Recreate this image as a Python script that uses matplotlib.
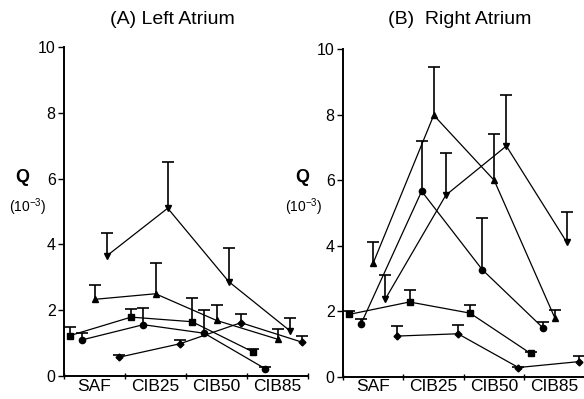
import numpy as np
import matplotlib
matplotlib.use('Agg')
import matplotlib.pyplot as plt

plt.rcParams['font.family'] = ['Liberation Sans', 'DejaVu Sans']
plt.rcParams['mathtext.default'] = 'regular'

categories = ['SAF', 'CIB25', 'CIB50', 'CIB85']

# left atrium: mean values and top of error bar, one list per marker series
la_square = [1.23, 1.79, 1.65, 0.73]
la_square_top = [1.50, 2.05, 2.38, 0.83]
la_circle = [1.10, 1.56, 1.30, 0.22]
la_circle_top = [1.32, 2.06, 2.02, 0.27]
la_up = [2.33, 2.50, 1.69, 1.12]
la_up_top = [2.78, 3.42, 2.17, 1.42]
la_down = [3.65, 5.10, 2.87, 1.38]
la_down_top = [4.34, 6.50, 3.89, 1.77]
la_diamond = [0.57, 0.98, 1.62, 1.03]
la_diamond_top = [0.65, 1.08, 1.87, 1.22]

# right atrium
ra_square = [1.90, 2.28, 1.94, 0.71]
ra_square_top = [2.02, 2.66, 2.18, 0.76]
ra_circle = [1.62, 5.66, 3.27, 1.50]
ra_circle_top = [1.75, 7.19, 4.84, 1.68]
ra_up = [3.47, 7.98, 5.99, 1.80]
ra_up_top = [4.12, 9.45, 7.42, 2.05]
ra_down = [2.37, 5.54, 7.04, 4.10]
ra_down_top = [3.11, 6.83, 8.59, 5.03]
ra_diamond = [1.24, 1.31, 0.28, 0.46]
ra_diamond_top = [1.54, 1.58, 0.30, 0.64]

markers = ['s', 'o', '^', 'v', 'D']
sizes = [5, 4.5, 5, 5, 3.5]
offsets = [0.1, 0.3, 0.5, 0.7, 0.9]

left_series = [(la_square, la_square_top), (la_circle, la_circle_top),
               (la_up, la_up_top), (la_down, la_down_top),
               (la_diamond, la_diamond_top)]
right_series = [(ra_square, ra_square_top), (ra_circle, ra_circle_top),
                (ra_up, ra_up_top), (ra_down, ra_down_top),
                (ra_diamond, ra_diamond_top)]

fig = plt.figure(figsize=(5.84, 3.99), dpi=100)
ax1 = fig.add_axes([0.1096, 0.0576, 0.4178, 0.8246])
ax2 = fig.add_axes([0.5873, 0.0559, 0.4144, 0.8213])


def draw(ax, series, title, title_x):
    base = np.arange(len(categories))
    for (vals, tops), m, ms, off in zip(series, markers, sizes, offsets):
        x = base + off
        vals = np.array(vals)
        tops = np.array(tops)
        ax.plot(x, vals, color='black', lw=0.9, marker=m, ms=ms,
                mfc='black', mec='black', zorder=3)
        ax.vlines(x, vals, tops, color='black', lw=1.2, zorder=2)
        ax.plot(x, tops, ls='none', marker='_', ms=8, mew=1.2,
                color='black', zorder=2)
    ax.set_xlim(0, 4)
    ax.set_ylim(0, 10)
    ax.spines['top'].set_visible(False)
    ax.spines['right'].set_visible(False)
    ax.spines['left'].set_linewidth(1.4)
    ax.spines['bottom'].set_linewidth(1.4)
    ax.set_yticks([0, 2, 4, 6, 8, 10])
    ax.tick_params(axis='y', direction='out', length=4, width=1,
                   labelsize=11.5, pad=2)
    ax.set_xticks(base + 0.5)
    ax.set_xticklabels(categories, fontsize=12.5)
    ax.set_xticks(np.arange(5), minor=True)
    ax.tick_params(axis='x', which='major', length=0, pad=2)
    ax.tick_params(axis='x', which='minor', direction='inout', length=5,
                   width=1)
    fig.text(title_x, 1 - 19 / 399, title, fontsize=14, ha='center',
             va='center')


draw(ax1, left_series, '(A) Left Atrium', 172 / 584)
draw(ax2, right_series, '(B)  Right Atrium', 460 / 584)

for qx, px in [(22, 28), (302, 304)]:
    fig.text(qx / 584, 1 - 178 / 399, 'Q', fontsize=13, fontweight='bold',
             ha='center', va='center')
    fig.text(px / 584, 1 - 207 / 399, '(10$^{-3}$)', fontsize=10,
             ha='center', va='center')

fig.savefig('out.png', dpi=100)
